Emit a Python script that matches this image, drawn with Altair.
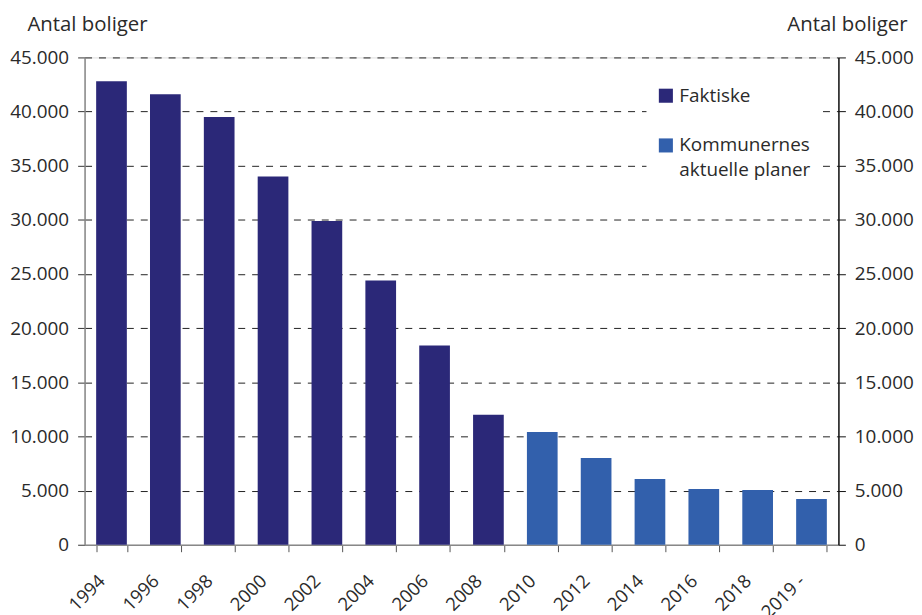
import altair as alt
import pandas as pd

years = ["1994", "1996", "1998", "2000", "2002", "2004", "2006", "2008",
         "2010", "2012", "2014", "2016", "2018", "2019 -"]
values = [42800, 41600, 39500, 34000, 29900, 24400, 18400, 12000,
          10400, 8000, 6060, 5140, 5050, 4220]
series = ["Faktiske"] * 8 + ["Kommunernes aktuelle planer"] * 6
# legend rows: entry, spacer row, entry (first line), continuation line
legend_rows = ["Faktiske", "_gap", "Kommunernes aktuelle planer", "_line2"]
legend_colors = ["#2B2878", "rgba(0,0,0,0)", "#3260AC", "rgba(0,0,0,0)"]
y_ticks = list(range(0, 45001, 5000))

df = pd.DataFrame({"year": years, "value": values, "series": series})

FONT = "Open Sans"
TXT = "#2a2a2a"
label_expr = "replace(format(datum.value, ','), ',', '.')"
legend_label_expr = ("datum.label == 'Kommunernes aktuelle planer' ? 'Kommunernes' : "
                     "datum.label == '_line2' ? 'aktuelle planer' : "
                     "datum.label == '_gap' ? '' : datum.label")

x_enc = alt.X(
    "year:N", sort=years, title=None,
    scale=alt.Scale(paddingInner=0.43, paddingOuter=0.215),
    axis=alt.Axis(labelAngle=315, labelAlign="right", labelBaseline="middle",
                  labelFontSize=18.5, labelFont=FONT, labelColor=TXT,
                  labelPadding=26, labelOffset=-10, tickBand="extent", tickSize=7,
                  tickColor="#555", domainColor="#888", domainWidth=1.5),
)

y_scale = alt.Scale(domain=[0, 45000], nice=False)

bars = alt.Chart(df).mark_bar().encode(
    x=x_enc,
    y=alt.Y("value:Q", scale=y_scale,
            axis=alt.Axis(values=y_ticks, labelExpr=label_expr, title="Antal boliger",
                          titleAngle=0, titleAlign="left", titleBaseline="alphabetic",
                          titleX=-58, titleY=-27, titleFontSize=20.5, titleFont=FONT,
                          titleFontWeight="normal", titleColor=TXT,
                          labelFontSize=19, labelFont=FONT, labelColor=TXT,
                          labelPadding=9, tickSize=7, tickColor="#333",
                          domainColor="#888", domainWidth=1.5,
                          grid=True, gridColor="#222", gridDash=[7, 7], gridWidth=1,
                          gridOpacity={"condition": {"test": "datum.value === 0", "value": 0}, "value": 1})),
    color=alt.Color("series:N", scale=alt.Scale(domain=legend_rows, range=legend_colors),
                    legend=alt.Legend(title=None, orient="none", legendX=565, legendY=19,
                                      padding=10, fillColor="white", strokeColor="white",
                                      symbolType="square", symbolSize=200, symbolStrokeWidth=0,
                                      labelFontSize=19, labelFont=FONT, labelColor=TXT,
                                      rowPadding=5, labelLimit=300, labelOffset=4,
                                      labelExpr=legend_label_expr)),
)

right = alt.Chart(df).mark_point(opacity=0).encode(
    x=alt.X("year:N", sort=years),
    y=alt.Y("value:Q", scale=y_scale,
            axis=alt.Axis(orient="right", values=y_ticks, labelExpr=label_expr,
                          title="Antal boliger", titleAngle=0, titleAlign="right",
                          titleBaseline="alphabetic", titleX=69, titleY=-27,
                          titleFontSize=20.5, titleFont=FONT, titleFontWeight="normal",
                          titleColor=TXT, labelFontSize=19, labelFont=FONT,
                          labelColor=TXT, labelPadding=9, tickSize=7,
                          tickColor="#111", domainColor="#111", domainWidth=1.5,
                          grid=False)),
)

chart = alt.layer(bars, right).resolve_scale(y="independent").properties(
    width=758, height=490, padding={"left": 1, "top": 5, "right": 0, "bottom": 0}
).configure_view(stroke=None).configure(background="white")

chart.save("out.html", embed_options={"renderer": "svg", "actions": False})
